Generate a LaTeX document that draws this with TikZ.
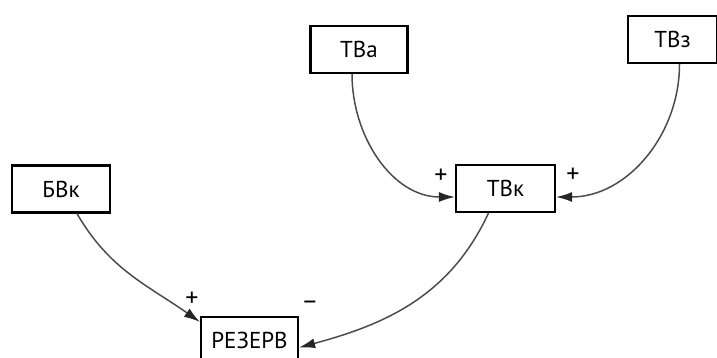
\documentclass[tikz,border=0pt]{standalone}
\usepackage{fontspec}
\setmainfont{PT Sans}
\usetikzlibrary{arrows.meta}
\begin{document}
\begin{tikzpicture}[x=1pt,y=-1pt,
  box/.style={draw=black,line width=2.2pt,fill=white,inner sep=0pt,
    minimum width=97pt,minimum height=47pt,font=\fontsize{23}{26}\selectfont},
  link/.style={draw=black!70,line width=1.5pt,
    -{Latex[length=16pt,width=10pt,black!85]}},
  sign/.style={font=\fontsize{26}{28}\selectfont,inner sep=0pt}]
\useasboundingbox (0,0) rectangle (717,358);
% variables
\node[box] (tva) at (359,49.5) {ТВа};
\node[box,minimum width=89pt] (tvz) at (672.5,39.5) {ТВз};
\node[box,minimum width=99pt] (tvk) at (505.5,188.5) {ТВк};
\node[box,minimum width=98pt] (bvk) at (61,189) {БВк};
\node[box] (rez) at (249.5,340.5) {РЕЗЕРВ};
% causal links
\draw[link] ([xshift=-7pt]tva.south) to[out=-90,in=180] ([yshift=-8.5pt]tvk.west);
\draw[link] ([xshift=7pt]tvz.south) to[out=-90,in=0] ([yshift=-8.5pt]tvk.east);
\draw[link] ([xshift=-17pt]tvk.south) to[out=-115,in=15] ([yshift=-7pt]rez.east);
\draw[link] ([xshift=16pt]bvk.south) to[out=-60,in=145] ([yshift=-6pt]rez.north west);
% polarities
\node[sign] (p1) at (441,176) {+};
\node[sign] (p2) at (573,175) {+};
\node[sign] (p3) at (192,299) {+};
\node[sign] (m1) at (310,305) {–};
\end{tikzpicture}
\end{document}
